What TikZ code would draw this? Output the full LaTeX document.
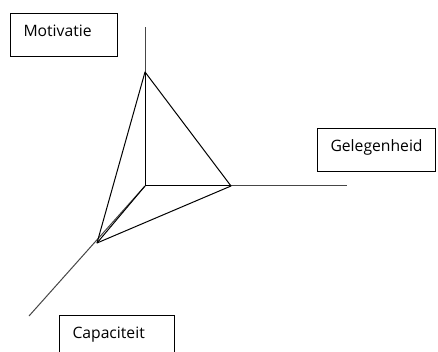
\documentclass[tikz,border=0pt]{standalone}
\usepackage{fontspec}
\setmainfont{Open Sans}
\definecolor{axisgray}{RGB}{70,70,70}
\begin{document}
\begin{tikzpicture}[x=1pt,y=-1pt,
  box/.style={draw=black,line width=1pt,rectangle,anchor=north west,
    inner xsep=13pt,inner ysep=0pt,align=left,
    text height=11pt,text depth=8pt,
    font=\fontsize{15.7}{18}\selectfont},
  axis/.style={draw=axisgray,line width=1pt},
  edge/.style={draw=black,line width=1pt,line join=round}]
\clip (0,0) rectangle (438,352);
\fill[white] (0,0) rectangle (438,352);
% boxes
\node[box,text width=81pt,minimum height=43pt] (mot) at (10,13) {Motivatie};
\node[box,text width=92pt,minimum height=43pt] (gel) at (317,128) {Gelegenheid};
\node[box,text width=89pt,minimum height=43pt] (cap) at (59,315) {Capaciteit};
% axes
\coordinate (O) at (145,186);
\coordinate (ytop) at (145,27);
\coordinate (xend) at (347,186);
\coordinate (zend) at (29,316);
\coordinate (M) at (145,72);
\coordinate (G) at (231,186);
\coordinate (C) at (97,243);
\draw[axis] (O) -- (ytop);
\draw[axis] (O) -- (xend);
\draw[axis] (O) -- (zend);
% triangle
\draw[edge] (M) -- (G) -- (C) -- cycle;
\draw[edge] (O) -- (M);
\draw[edge] (O) -- (G);
\draw[edge] (O) -- (C);
\end{tikzpicture}
\end{document}
